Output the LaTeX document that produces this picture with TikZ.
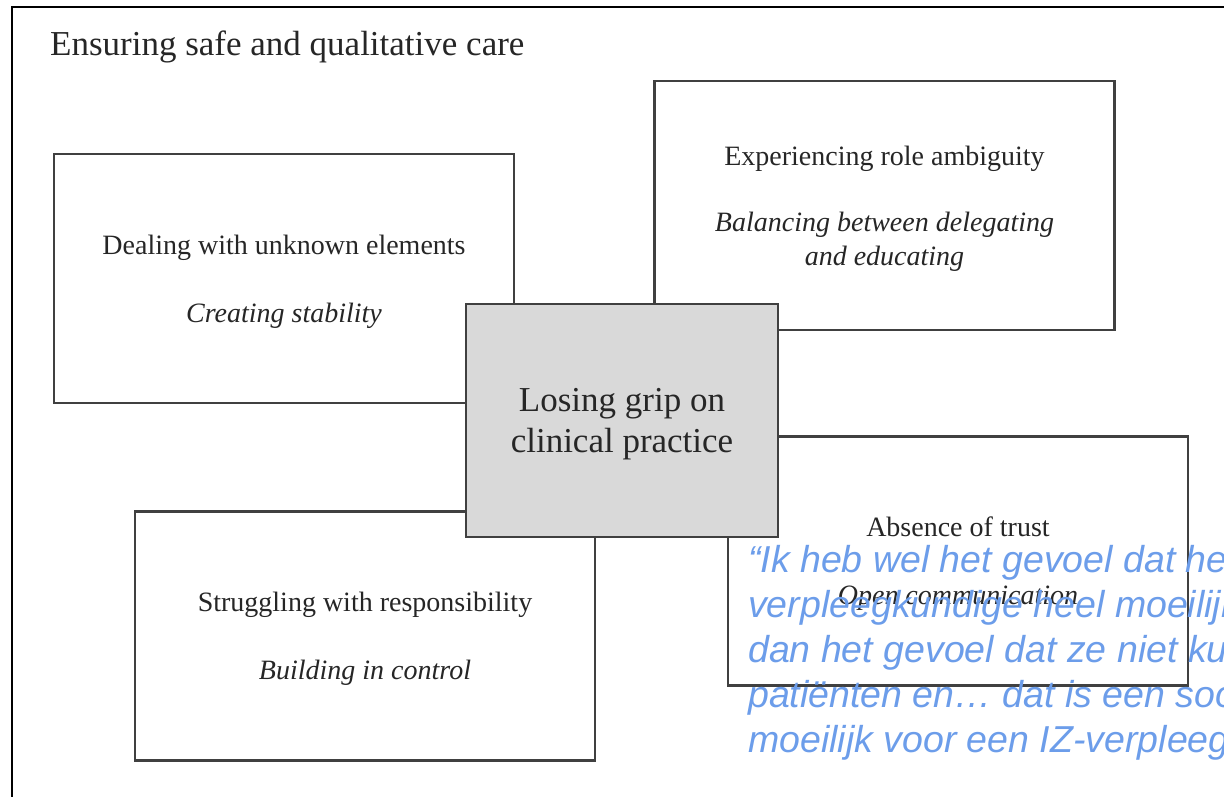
\documentclass[tikz,border=0pt]{standalone}
\usepackage{fontspec}
\setmainfont{Liberation Serif}
\newfontfamily\quoteFont{Liberation Sans}
\definecolor{quoteBlue}{RGB}{108,157,234}
\definecolor{boxLine}{RGB}{64,64,64}
\definecolor{coreFill}{RGB}{217,217,217}
\definecolor{inkGray}{RGB}{38,38,38}

\begin{document}
\begin{tikzpicture}[x=1pt,y=-1pt,
  themeBox/.style={draw=boxLine, line width=2.5pt, fill=white, inner sep=0pt,
    minimum width=460pt, minimum height=249pt, align=center, text=inkGray,
    text depth=0pt, font=\fontsize{28}{34}\selectfont},
  coreBox/.style={themeBox, fill=coreFill, minimum width=312pt, minimum height=233pt,
    font=\fontsize{35}{41}\selectfont},
  quoteLine/.style={anchor=base west, inner sep=0pt, text=quoteBlue,
    font=\quoteFont\itshape\fontsize{37.5}{45}\selectfont}]
\useasboundingbox (0,0) rectangle (1224,796);
\clip (0,0) rectangle (1224,796);
% outer frame
\draw[line width=2.5pt] (12,820) -- (12,7) -- (1250,7);
\node[anchor=base west, inner sep=0pt, text=inkGray, font=\fontsize{35}{41}\selectfont] (title) at (50,55) {Ensuring safe and qualitative care};
% four themes
\node[themeBox] (unknown) at (284,278.5) {Dealing with unknown elements\\[34pt]\textit{Creating stability}};
\node[themeBox] (role) at (884.5,205.5) {Experiencing role ambiguity\\[32pt]\textit{Balancing between delegating}\\\textit{and educating}};
\node[themeBox] (responsibility) at (365,636) {Struggling with responsibility\\[34pt]\textit{Building in control}};
\node[themeBox] (trust) at (958,561) {Absence of trust\\[34pt]\textit{Open communication}};
% core category
\node[coreBox] (core) at (622,420.5) {Losing grip on\\clinical practice};
% quote
\foreach \txt [count=\i] in {“Ik heb wel het gevoel dat het, verpleegkundige heel moeilijk, dan het gevoel dat ze niet kunnen, patiënten en… dat is een soort, moeilijk voor een IZ-verpleegkundige}
  \node[quoteLine] (q\i) at (748,{572+45*(\i-1)}) {\txt};
\end{tikzpicture}
\end{document}
